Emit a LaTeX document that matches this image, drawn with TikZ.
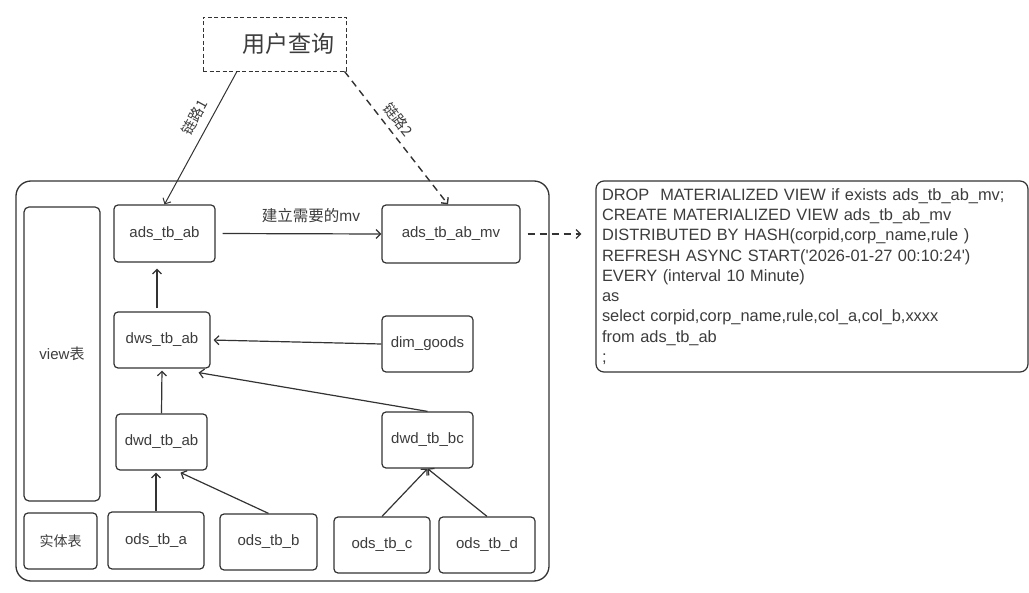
\documentclass[tikz,border=0pt]{standalone}
\usepackage{fontspec}
\setmainfont{Liberation Sans}
\newfontfamily\cjk{Noto Sans CJK SC}
\usetikzlibrary{arrows.meta}
\definecolor{ln}{HTML}{333333}
\definecolor{tx}{HTML}{3C3C3C}

\begin{document}
\begin{tikzpicture}[x=1pt, y=-1pt, line width=1.2pt, color=ln,
  >={Straight Barb[length=4.5pt,width=9pt]},
  tbl/.style n args={2}{draw, rounded corners=4pt, minimum width=#1, minimum height=#2,
    inner sep=0pt, text=tx, font=\fontsize{15}{18}\selectfont},
  lbl/.style={text=tx, inner sep=1pt, font=\fontsize{14.5}{16}\cjk}]
  \useasboundingbox (0,0) rectangle (1029,593);
  % user query and the warehouse frame
  \node[draw, dashed, dash pattern=on 4pt off 2.5pt, line width=0.8pt, minimum width=143pt, minimum height=54pt,
    text=tx, font=\fontsize{23}{26}\cjk] (query) at (274.5,44) {\hspace*{27pt}用户查询};
  \node[draw, rounded corners=15pt, line width=1.3pt, minimum width=533pt, minimum height=400pt] (layer) at (282.5,381) {};
  \node[tbl={76pt}{294pt}, rounded corners=5pt] (viewt) at (62,354) {view{\cjk 表}};
  \node[tbl={73pt}{56pt}] (entity) at (60.5,541) {\cjk\fontsize{14}{16}\selectfont 实体表};
  % tables
  \node[tbl={101pt}{57pt}] (ads) at (164.5,233.5) {ads\_tb\_ab};
  \node[tbl={138pt}{58pt}] (mv) at (451,234) {ads\_tb\_ab\_mv};
  \node[tbl={96pt}{56pt}] (dws) at (162,340) {dws\_tb\_ab};
  \node[tbl={91pt}{56pt}] (dimgoods) at (427.5,344) {dim\_goods};
  \node[tbl={91pt}{56pt}] (dwdab) at (161.5,442) {dwd\_tb\_ab};
  \node[tbl={91pt}{56pt}] (dwdbc) at (427.5,440) {dwd\_tb\_bc};
  \node[tbl={96pt}{57pt}] (odsa) at (156,540.5) {ods\_tb\_a};
  \node[tbl={97pt}{56pt}] (odsb) at (268.5,542) {ods\_tb\_b};
  \node[tbl={96pt}{56pt}] (odsc) at (382,545) {ods\_tb\_c};
  \node[tbl={96pt}{56pt}] (odsd) at (487,545) {ods\_tb\_d};
  % sql of the mv
  \node[draw, rounded corners=8pt, minimum height=191pt, text width=420pt, inner xsep=6pt, align=left,
    text=tx, font=\fontsize{16.4}{20.3}\selectfont] (sql) at (812,276.5)
    {DROP~ MATERIALIZED VIEW if exists ads\_tb\_ab\_mv;\\
     CREATE MATERIALIZED VIEW ads\_tb\_ab\_mv\\
     DISTRIBUTED BY HASH(corpid,corp\_name,rule )\\
     REFRESH ASYNC START(\textquotesingle2026-01-27 00:10:24\textquotesingle)\\
     EVERY (interval 10 Minute)\\
     as\\
     select corpid,corp\_name,rule,col\_a,col\_b,xxxx\\
     from ads\_tb\_ab\\
     ;};
  % links
  \draw[->, line width=1pt] ([xshift=-37.5pt]query.south) -- (ads.north)
    node[pos=0.40, sloped, above=7pt, lbl] {链路1};
  \draw[->, dashed, dash pattern=on 7pt off 5pt, line width=1.4pt] ([xshift=70pt]query.south) -- ([xshift=-3pt]mv.north)
    node[pos=0.42, sloped, above=4.5pt, lbl] {链路2};
  \draw[->, shorten <=7pt] (ads.east) -- (mv.west)
    node[pos=0.575, above=9pt, lbl, font=\fontsize{15.5}{17}\selectfont] {{\cjk 建立需要的}mv};
  \draw[->, dashed, dash pattern=on 7pt off 5pt, shorten <=7pt, shorten >=14pt] (mv.east) -- (mv.east -| sql.west);
  \draw[->, shorten <=3pt, shorten >=6pt] ([xshift=-5pt]dws.north) -- ([xshift=-5pt]dws.north |- ads.south);
  \draw[->, shorten >=3pt] (dimgoods.west) -- (dws.east);
  \draw[->] (dwdbc.north) -- ([xshift=-12pt,yshift=-4pt]dws.south east);
  \draw[->, shorten >=2pt] (dwdab.north) -- (dws.south);
  \draw[->, shorten >=2pt] (odsa.north) -- (odsa.north |- dwdab.south);
  \draw[->] (odsb.north) -- ([xshift=19pt,yshift=-2pt]dwdab.south);
  \draw[->] (odsc.north) -- (dwdbc.south);
  \draw[->] (odsd.north) -- (dwdbc.south);
\end{tikzpicture}
\end{document}
